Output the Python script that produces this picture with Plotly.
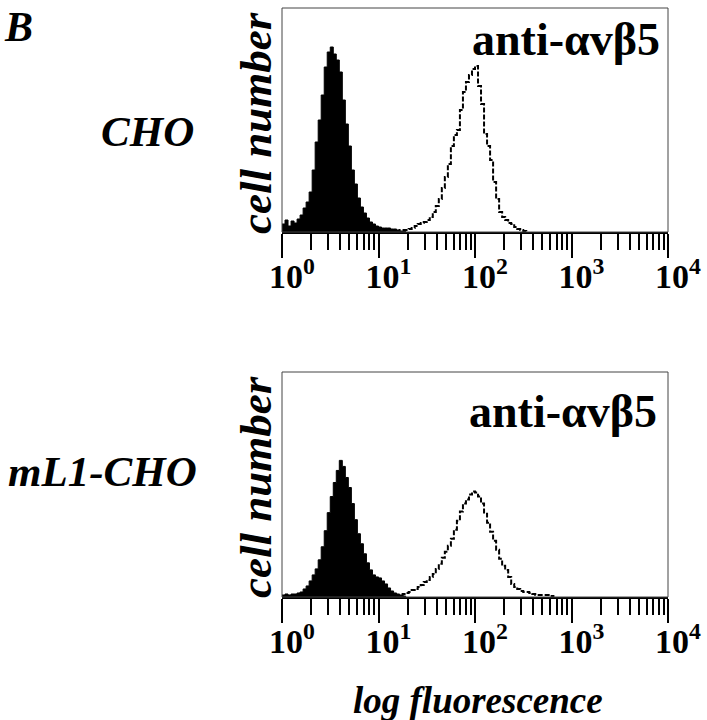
import plotly.graph_objects as go

# channel resolution: 32 channels per decade, 4 decades (10^0 .. 10^4)
CH_PER_DECADE = 32

# CHO, anti-avb5 panel
cho_ctrl_start = 0
cho_ctrl = [8, 12, 6, 11, 9, 13, 17, 24, 30, 40, 62, 90, 112, 137, 165, 180,
            185, 178, 172, 160, 132, 108, 86, 62, 48, 34, 25, 19, 14, 10, 8, 6,
            5, 4, 4, 4, 3, 3, 2, 1, 1]
cho_stain_start = 36
cho_stain = [1, 1, 1, 2, 2, 2, 3, 4, 6, 8, 9, 10, 12, 15, 20, 26, 33, 44, 55,
             68, 86, 97, 102, 122, 140, 150, 157, 163, 166, 146, 128, 98, 86,
             72, 50, 33, 20, 15, 12, 9, 8, 5, 3, 2, 1]

# mL1-CHO, anti-avb5 panel
ml1_ctrl_start = 0
ml1_ctrl = [2, 3, 2, 3, 3, 4, 5, 8, 11, 16, 22, 28, 37, 50, 66, 84, 100, 114,
            126, 136, 130, 119, 109, 93, 77, 63, 53, 43, 34, 27, 22, 20, 19,
            16, 13, 9, 6, 4, 3, 2, 1]
ml1_stain_start = 38
ml1_stain = [1, 2, 3, 4, 5, 7, 8, 10, 12, 15, 17, 20, 23, 28, 33, 39, 45, 51,
             58, 67, 76, 85, 93, 97, 102, 105, 104, 100, 93, 83, 74, 65, 56,
             47, 38, 31, 27, 20, 13, 10, 8, 6, 5, 5, 4, 3, 2, 2, 2, 2, 2, 1]

row_labels = ["CHO", "mL1-CHO"]
panel_label = "anti-\u03b1v\u03b25"
tick_vals = [1, 10, 100, 1000, 10000]
tick_text = ["10<sup>0</sup>", "10<sup>1</sup>", "10<sup>2</sup>",
             "10<sup>3</sup>", "10<sup>4</sup>"]
minor_vals = [m * 10 ** d for d in range(4) for m in range(2, 10)]

SERIF = "Liberation Serif"


def steps(start, counts):
    # left channel edges -> fluorescence values, closed back to zero
    xs = [10 ** ((start + i) / CH_PER_DECADE) for i in range(len(counts) + 1)]
    ys = list(counts) + [0]
    return [xs[0]] + xs, [0] + ys


fig = go.Figure()

panels = [
    (cho_ctrl_start, cho_ctrl, cho_stain_start, cho_stain, "x", "y"),
    (ml1_ctrl_start, ml1_ctrl, ml1_stain_start, ml1_stain, "x2", "y2"),
]
for c_start, c_vals, s_start, s_vals, xa, ya in panels:
    cx, cy = steps(c_start, c_vals)
    fig.add_trace(go.Scatter(x=cx, y=cy, mode="lines", line_shape="hv",
                             fill="tozeroy", fillcolor="black",
                             line=dict(color="black", width=1),
                             xaxis=xa, yaxis=ya, showlegend=False))
    sx, sy = steps(s_start, s_vals)
    fig.add_trace(go.Scatter(x=sx, y=sy, mode="lines", line_shape="hv",
                             line=dict(color="black", width=2, dash="5px,2px"),
                             xaxis=xa, yaxis=ya, showlegend=False))

xdom = [282 / 707, 668 / 707]
ydoms = [[(720 - 232) / 720, (720 - 8) / 720], [(720 - 597) / 720, (720 - 372) / 720]]

xaxis_style = dict(
    type="log", range=[0, 4], domain=xdom, automargin=False,
    showline=True, linewidth=2, linecolor="black",
    showgrid=False, zeroline=False,
    ticks="outside", ticklen=24, tickwidth=2, tickcolor="black",
    tickvals=tick_vals, ticktext=tick_text,
    tickfont=dict(family=SERIF, size=34, color="black", weight="bold"),
    ticklabelshift=10, ticklabelstandoff=-11,
    minor=dict(ticks="outside", ticklen=16, tickwidth=2, tickcolor="black",
               tickvals=minor_vals, showgrid=False),
)
yaxis_style = dict(range=[0, 224], showline=False, showgrid=False, automargin=False,
                   zeroline=False, showticklabels=False, ticks="")

fig.update_layout(
    width=707, height=720,
    margin=dict(l=0, r=0, t=0, b=0, autoexpand=False),
    paper_bgcolor="white", plot_bgcolor="white",
    xaxis=dict(xaxis_style, anchor="y"),
    yaxis=dict(yaxis_style, domain=ydoms[0], anchor="x"),
    xaxis2=dict(xaxis_style, anchor="y2"),
    yaxis2=dict(yaxis_style, domain=ydoms[1], anchor="x2"),
)

# frame around each panel
for xr, yr in [("x domain", "y domain"), ("x2 domain", "y2 domain")]:
    fig.add_shape(type="rect", xref=xr, yref=yr, x0=0, x1=1, y0=0, y1=1,
                  line=dict(color="#444", width=1))

bi = dict(family=SERIF, color="black", weight="bold", style="italic")
b = dict(family=SERIF, color="black", weight="bold")


def px(x, y):
    return x / 707, 1 - y / 720


annos = [
    ("B", 18, 27, dict(bi, size=42), 0),
    (row_labels[0], 147, 131, dict(bi, size=43), 0),
    (row_labels[1], 102, 471, dict(bi, size=43), 0),
    ("cell number", 256, 123, dict(bi, size=45), -90),
    ("cell number", 256, 487, dict(bi, size=45), -90),
    (panel_label, 566, 39, dict(b, size=46), 0),
    (panel_label, 563, 411, dict(b, size=46), 0),
    ("log fluorescence", 478, 700, dict(bi, size=37), 0),
]
for text, x, y, font, ang in annos:
    ax, ay = px(x, y)
    fig.add_annotation(text=text, x=ax, y=ay, xref="paper", yref="paper",
                       showarrow=False, font=font, textangle=ang, borderpad=0,
                       xanchor="center", yanchor="middle")

# drop the page's default body margin so the figure sits at the window origin
fig.write_html("out.html", config={"displayModeBar": False},
               post_script="document.body.style.margin='0';")
